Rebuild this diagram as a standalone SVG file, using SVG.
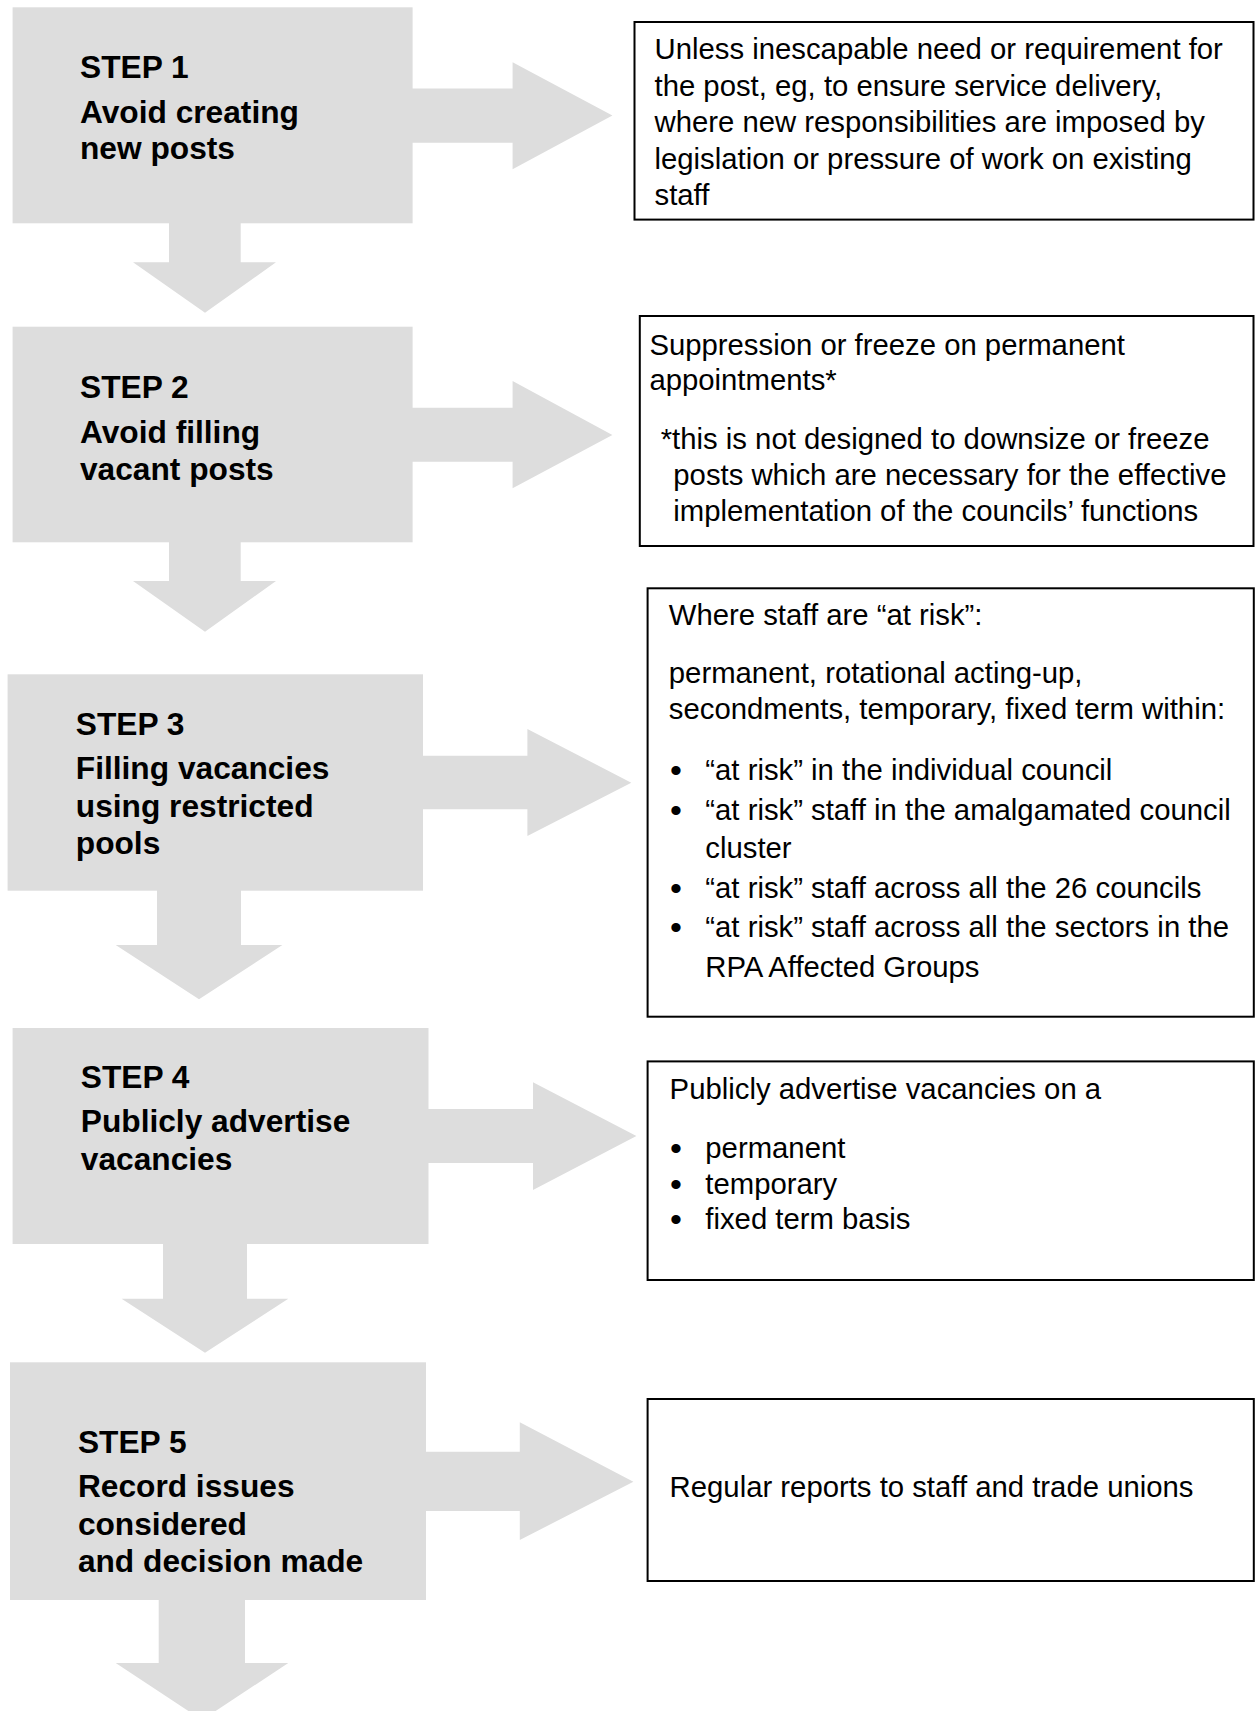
<svg xmlns="http://www.w3.org/2000/svg" width="1257" height="1711" viewBox="0 0 1257 1711">
<style>
.step{fill:#dddddd;stroke:none}
.arrow{fill:#dddddd;stroke:none}
.note{fill:#ffffff;stroke:#000000;stroke-width:2}
.st{font-family:"Liberation Sans",Arial,sans-serif;font-weight:bold;font-size:31.7px;fill:#000}
.tx{font-family:"Liberation Sans",Arial,sans-serif;font-size:29.3px;fill:#000}
.bl{font-family:"Liberation Sans",Arial,sans-serif;font-size:34px;fill:#000}
</style>
<rect width="1257" height="1711" fill="#ffffff"/>

<g id="connectors">
  <polygon class="arrow" points="412,88.5 512.6,88.5 512.6,62.3 612.4,115.5 512.6,169.3 512.6,142.7 412,142.7"/>
  <polygon class="arrow" points="169,223 240.7,223 240.7,262.3 276,262.3 205,312.7 133,262.3 169,262.3"/>
  <polygon class="arrow" points="412,407.7 512.6,407.7 512.6,381 612.4,435 512.6,488.3 512.6,461.7 412,461.7"/>
  <polygon class="arrow" points="169,542 240.7,542 240.7,581 276,581 205,631.7 133,581 169,581"/>
  <polygon class="arrow" points="422.5,755.7 527.4,755.7 527.4,729 631.3,782.7 527.4,836 527.4,809.3 422.5,809.3"/>
  <polygon class="arrow" points="157,890 241,890 241,945 282.4,945 199,999.3 115.7,945 157,945"/>
  <polygon class="arrow" points="428,1109 533,1109 533,1082.3 636.4,1136 533,1190 533,1163 428,1163"/>
  <polygon class="arrow" points="163,1243.5 247,1243.5 247,1298.7 288.3,1298.7 205,1352.7 121.6,1298.7 163,1298.7"/>
  <polygon class="arrow" points="425.5,1451.7 519.8,1451.7 519.8,1422.3 633.4,1481.7 519.8,1540 519.8,1511 425.5,1511"/>
  <polygon class="arrow" points="158.7,1599.5 245,1599.5 245,1663 288.3,1663 202,1720 115.7,1663 158.7,1663"/>
</g>

<g id="step1">
  <rect class="step" x="12.6" y="7.3" width="400" height="216"/>
  <text class="st" x="80" y="78.3">STEP 1</text>
  <text class="st" x="80" y="122.5">Avoid creating</text>
  <text class="st" x="80" y="159">new posts</text>
</g>
<g id="step2">
  <rect class="step" x="12.6" y="326.7" width="400" height="215.6"/>
  <text class="st" x="80" y="397.7">STEP 2</text>
  <text class="st" x="80" y="442.5">Avoid filling</text>
  <text class="st" x="80" y="479.5">vacant posts</text>
</g>
<g id="step3">
  <rect class="step" x="7.6" y="674.3" width="415.4" height="216.4"/>
  <text class="st" x="75.8" y="735">STEP 3</text>
  <text class="st" x="75.8" y="778.5">Filling vacancies</text>
  <text class="st" x="75.8" y="816.5">using restricted</text>
  <text class="st" x="75.8" y="853.5">pools</text>
</g>
<g id="step4">
  <rect class="step" x="12.6" y="1028" width="415.9" height="216"/>
  <text class="st" x="80.8" y="1088.3">STEP 4</text>
  <text class="st" x="80.8" y="1132">Publicly advertise</text>
  <text class="st" x="80.8" y="1169.5">vacancies</text>
</g>
<g id="step5">
  <rect class="step" x="10" y="1362.3" width="416" height="237.7"/>
  <text class="st" x="77.9" y="1453.3">STEP 5</text>
  <text class="st" x="77.9" y="1497.3">Record issues</text>
  <text class="st" x="77.9" y="1535">considered</text>
  <text class="st" x="77.9" y="1572">and decision made</text>
</g>

<g id="note1">
  <rect class="note" x="634.5" y="22" width="619" height="197.6"/>
  <text class="tx" x="654.5" y="59">Unless inescapable need or requirement for</text>
  <text class="tx" x="654.5" y="95.5">the post, eg, to ensure service delivery,</text>
  <text class="tx" x="654.5" y="132">where new responsibilities are imposed by</text>
  <text class="tx" x="654.5" y="168.5">legislation or pressure of work on existing</text>
  <text class="tx" x="654.5" y="205">staff</text>
</g>
<g id="note2">
  <rect class="note" x="639.8" y="316" width="613.7" height="230"/>
  <text class="tx" x="649.4" y="354.5">Suppression or freeze on permanent</text>
  <text class="tx" x="649.4" y="390">appointments*</text>
  <text class="tx" x="660.7" y="448.5">*this is not designed to downsize or freeze</text>
  <text class="tx" x="673.3" y="484.5">posts which are necessary for the effective</text>
  <text class="tx" x="673.3" y="520.5">implementation of the councils’ functions</text>
</g>
<g id="note3">
  <rect class="note" x="647.6" y="588.3" width="606.2" height="428.4"/>
  <text class="tx" x="668.8" y="625">Where staff are “at risk”:</text>
  <text class="tx" x="668.8" y="682.5">permanent, rotational acting-up,</text>
  <text class="tx" x="668.8" y="718.5">secondments, temporary, fixed term within:</text>
  <text class="bl" x="670" y="782">•</text>
  <text class="tx" x="705.3" y="780">“at risk” in the individual council</text>
  <text class="bl" x="670" y="821.5">•</text>
  <text class="tx" x="705.3" y="819.5">“at risk” staff in the amalgamated council</text>
  <text class="tx" x="705.3" y="858">cluster</text>
  <text class="bl" x="670" y="899.5">•</text>
  <text class="tx" x="705.3" y="897.5">“at risk” staff across all the 26 councils</text>
  <text class="bl" x="670" y="938.5">•</text>
  <text class="tx" x="705.3" y="936.5">“at risk” staff across all the sectors in the</text>
  <text class="tx" x="705.3" y="977">RPA Affected Groups</text>
</g>
<g id="note4">
  <rect class="note" x="647.6" y="1061.4" width="606.2" height="218.6"/>
  <text class="tx" x="669.6" y="1099">Publicly advertise vacancies on a</text>
  <text class="bl" x="670" y="1160">•</text>
  <text class="tx" x="705.3" y="1158">permanent</text>
  <text class="bl" x="670" y="1195.5">•</text>
  <text class="tx" x="705.3" y="1193.5">temporary</text>
  <text class="bl" x="670" y="1231">•</text>
  <text class="tx" x="705.3" y="1229">fixed term basis</text>
</g>
<g id="note5">
  <rect class="note" x="647.6" y="1399" width="606.2" height="182"/>
  <text class="tx" x="669.6" y="1497">Regular reports to staff and trade unions</text>
</g>
</svg>
